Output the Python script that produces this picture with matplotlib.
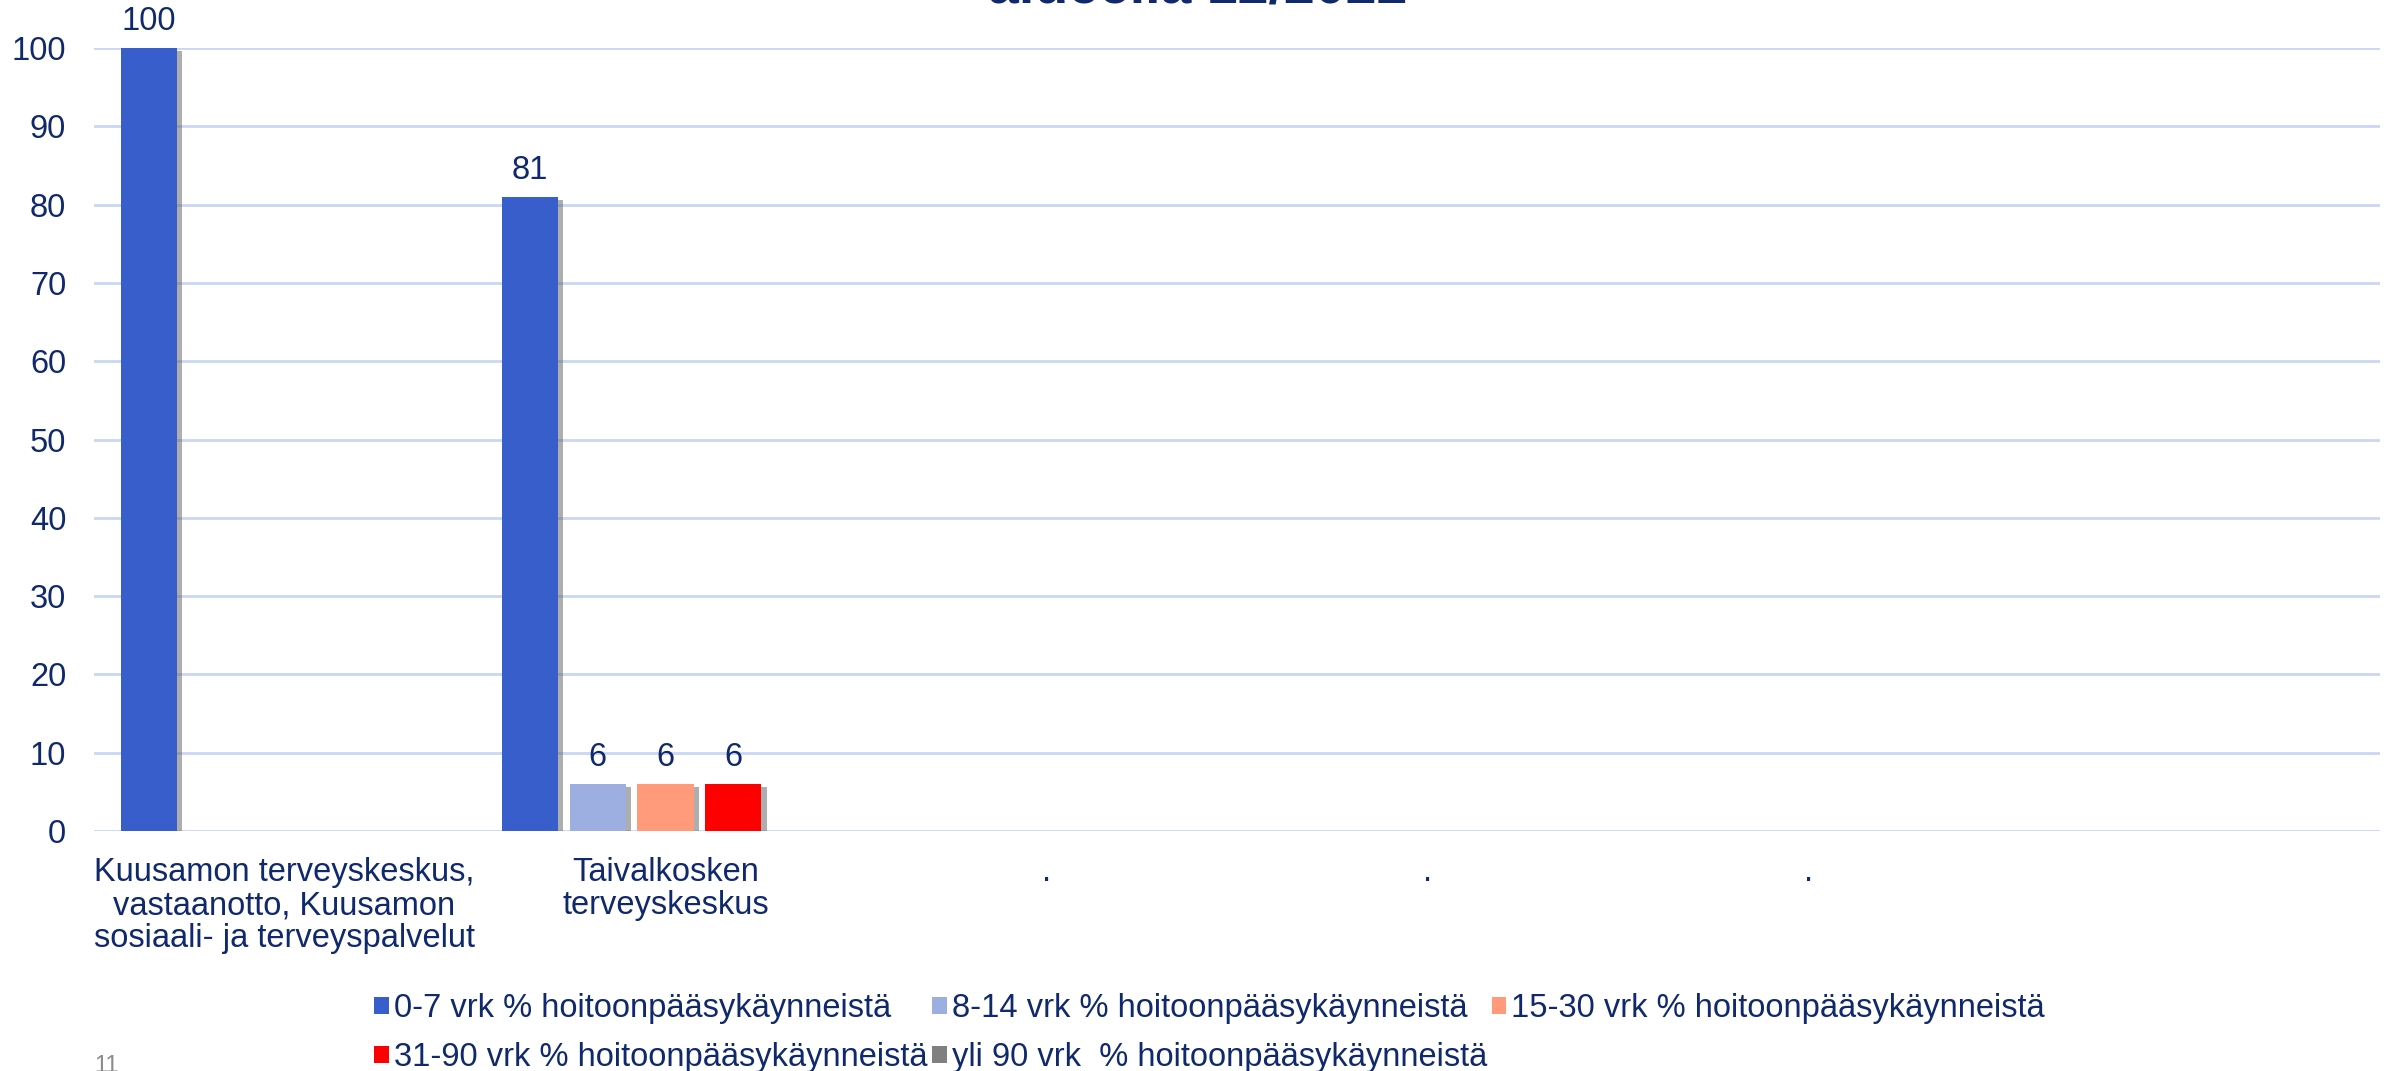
import matplotlib
matplotlib.use("Agg")
import matplotlib.pyplot as plt
import matplotlib.patheffects as pe
from matplotlib.patches import Patch
import numpy as np

plt.rcParams['font.family'] = ['Liberation Sans', 'DejaVu Sans']

categories = [
    "Kuusamon terveyskeskus,\nvastaanotto, Kuusamon\nsosiaali- ja terveyspalvelut",
    "Taivalkosken\nterveyskeskus",
    ".", ".", ".",
]
series_names = [
    "0-7 vrk % hoitoonpääsykäynneistä",
    "8-14 vrk % hoitoonpääsykäynneistä",
    "15-30 vrk % hoitoonpääsykäynneistä",
    "31-90 vrk % hoitoonpääsykäynneistä",
    "yli 90 vrk  % hoitoonpääsykäynneistä",
]
s0_7 = [100, 81, None, None, None]
s8_14 = [None, 6, None, None, None]
s15_30 = [None, 6, None, None, None]
s31_90 = [None, 6, None, None, None]
s_yli90 = [None, None, None, None, None]
series = [s0_7, s8_14, s15_30, s31_90, s_yli90]
colors = ["#385ECC", "#9DAEE0", "#FF9B7A", "#FF0000", "#808080"]
yticks = list(range(0, 101, 10))

TXT = "#10296C"
FS = 23.5
W, H = 2395, 1071
fig = plt.figure(figsize=(W / 100, H / 100), dpi=100, facecolor="white")
ax = fig.add_axes([94 / W, 1 - 831 / H, (2380 - 94) / W, (831 - 48) / H])

x = np.arange(len(categories))
bw = 0.147
step = 0.178
for i, (vals, c) in enumerate(zip(series, colors)):
    xs = [xi + (i - 2) * step for xi, v in zip(x, vals) if v is not None]
    vs = [v for v in vals if v is not None]
    if not vs:
        continue
    bars = ax.bar(xs, vs, width=bw, color=c, zorder=3,
                  path_effects=[pe.SimplePatchShadow(offset=(4, -2), shadow_rgbFace="#5f5f5f", alpha=0.5),
                                pe.Normal()])
    for b, v in zip(bars, vs):
        ax.annotate(f"{v:g}", (b.get_x() + b.get_width() / 2, v), xytext=(0, 8),
                    textcoords="offset points", ha="center", va="bottom",
                    fontsize=FS, color=TXT)

ax.set_ylim(0, 100)
ax.set_xlim(-0.5, -0.5 + (2380 - 94) / 381)
ax.set_yticks(yticks)
ax.set_xticks(x)
ax.set_xticklabels(categories, fontsize=FS, color=TXT, linespacing=1.08)
ax.tick_params(axis="y", length=0, pad=20, labelsize=FS, labelcolor=TXT)
ax.tick_params(axis="x", length=0, pad=19)
for s in ax.spines.values():
    s.set_visible(False)
ax.grid(axis="y", color="#C9D6F6", linewidth=2, zorder=0)
ax.set_axisbelow(True)

handles = [Patch(facecolor=c, edgecolor="none") for c in colors]
order = [0, 3, 1, 4, 2]
leg = fig.legend([handles[i] for i in order], [series_names[i] for i in order],
                 ncol=3, loc="upper left", bbox_to_anchor=(374 / W, 1 - 993 / H),
                 frameon=False, fontsize=FS, handlelength=0.45, handleheight=0.45,
                 handletextpad=0.15, columnspacing=0.15, labelspacing=0.55,
                 borderpad=0, borderaxespad=0)
for t in leg.get_texts():
    t.set_color(TXT)

fig.text(0.5, 1 - 2 / H, "alueella 12/2022", ha="center", va="baseline",
         fontsize=40, fontweight="bold", color=TXT)
fig.text(106 / W, 1 - 1055 / H, "11", ha="center", va="top", fontsize=17, color="#8C8C8C")

fig.savefig("out.png", dpi=100, facecolor="white")
